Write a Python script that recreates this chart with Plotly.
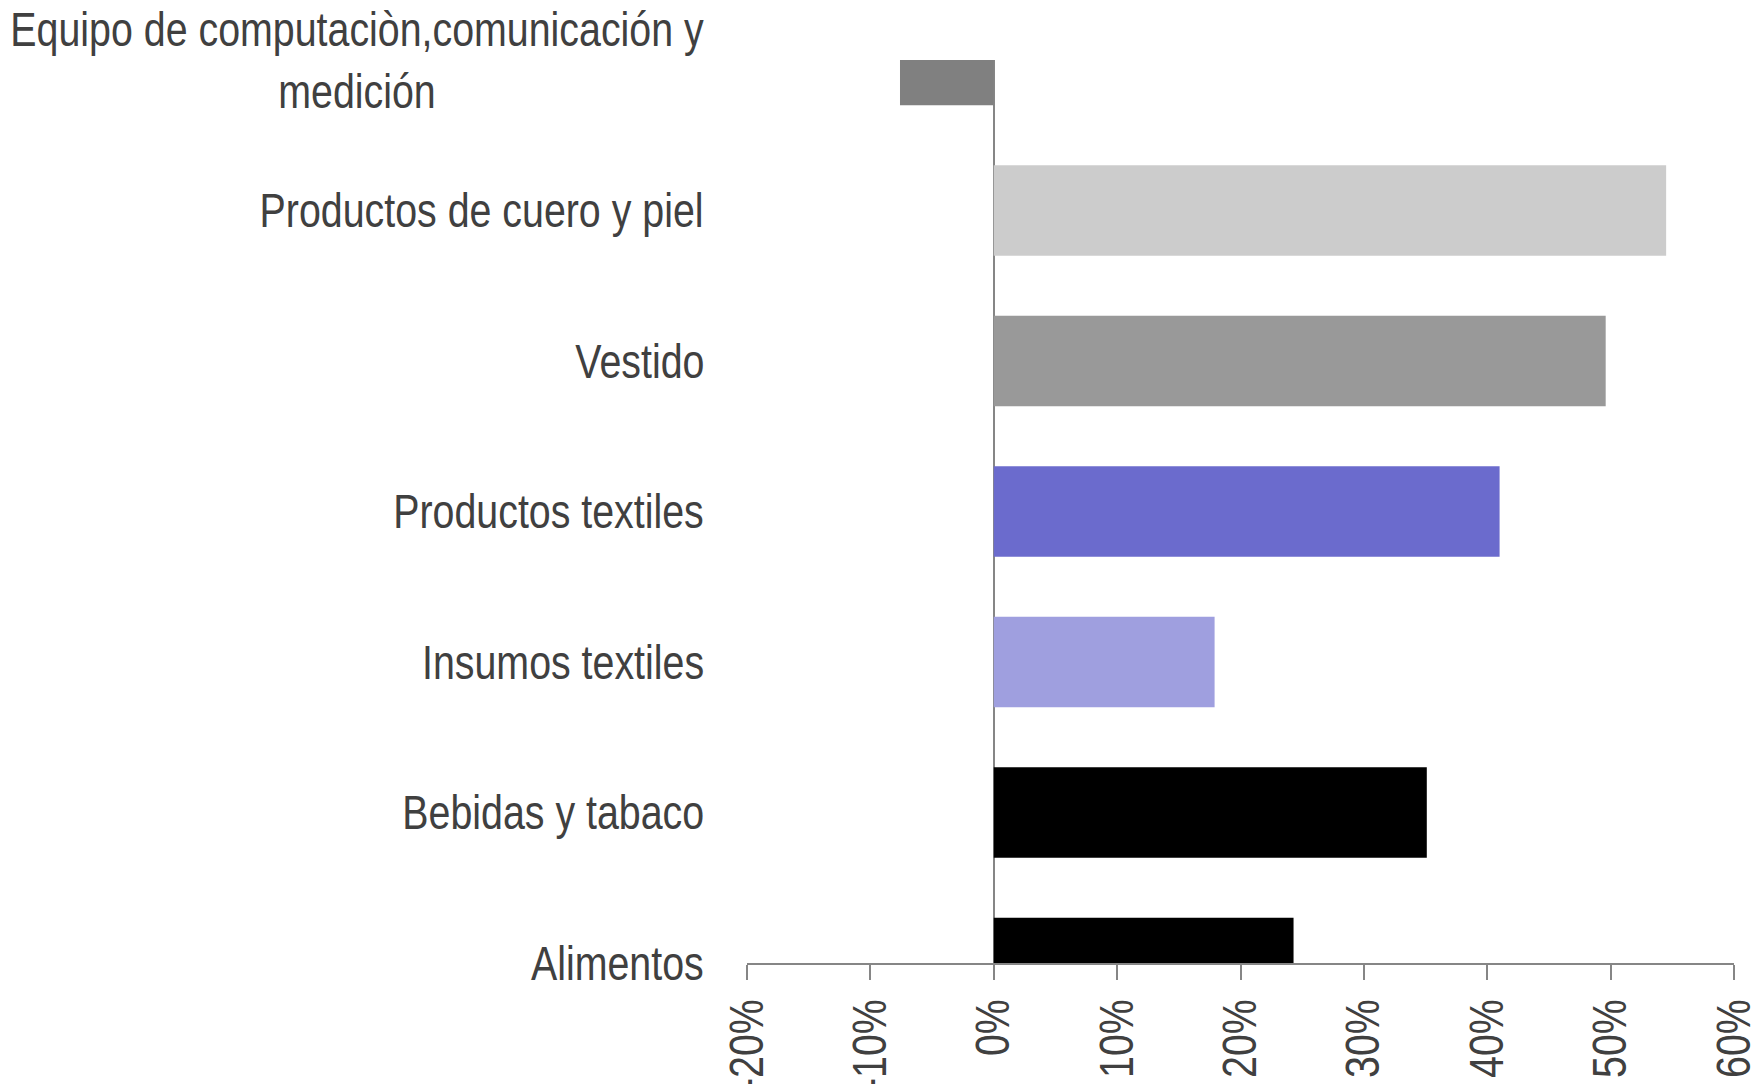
import plotly.graph_objects as go

categories = [
    "Alimentos",
    "Bebidas y tabaco",
    "Insumos textiles",
    "Productos textiles",
    "Vestido",
    "Productos de cuero y piel",
    "Equipo de computaciòn,comunicación y<br>medición",
]
values = [24.3, 35.1, 17.9, 41.0, 49.6, 54.5, -7.6]
colors = ["#000000", "#000000", "#9f9fdf", "#6b6bcd", "#999999", "#cccccc", "#808080"]
tick_vals = [-20, -10, 0, 10, 20, 30, 40, 50, 60]
tick_text = ["-20%", "-10%", "0%", "10%", "20%", "30%", "40%", "50%", "60%"]

FONT = "Liberation Sans, Arial, sans-serif"
TXT = "#404040"
AX = "#868686"

fig = go.Figure()
fig.add_trace(go.Bar(
    x=values,
    y=list(range(len(categories))),
    orientation="h",
    marker=dict(color=colors, line=dict(width=0)),
    width=0.6,
    showlegend=False,
))

for i, c in enumerate(categories):
    fig.add_annotation(
        x=0, xref="paper", y=i, yref="y",
        text=c, showarrow=False,
        xanchor="right", yanchor="middle", align="center",
        xshift=-41,
        font=dict(family=FONT, size=48, color=TXT),
    )

fig.update_layout(
    width=1756, height=1084,
    margin=dict(l=747, r=22, t=60, b=121, pad=0),
    paper_bgcolor="white", plot_bgcolor="white",
    bargap=0.4,
    xaxis=dict(
        range=[-20, 60],
        tickvals=tick_vals, ticktext=tick_text,
        tickangle=-90,
        ticks="outside", ticklen=15, tickwidth=2, tickcolor=AX,
        showline=True, linecolor=AX, linewidth=2,
        showgrid=False,
        zeroline=True, zerolinecolor=AX, zerolinewidth=2,
        tickfont=dict(family=FONT, size=48, color=TXT),
        ticklabelstandoff=0,
        ticklabeloverflow="allow",
        automargin=False,
    ),
    yaxis=dict(
        range=[0, 6],
        showticklabels=False, showgrid=False, zeroline=False,
        showline=False, ticks="", automargin=False,
    ),
)

# condensed look of the original (narrow sans) applied to the real text elements
post = """
var s = document.createElement('style');
s.textContent = '.annotation-text{transform-box:fill-box;transform-origin:100% 50%;transform:scaleX(0.82);}' +
                'g.xtick{transform-box:fill-box;transform-origin:50% 0%;transform:scaleY(0.82);}';
document.head.appendChild(s);
"""

fig.write_html("out.html", post_script=post)
